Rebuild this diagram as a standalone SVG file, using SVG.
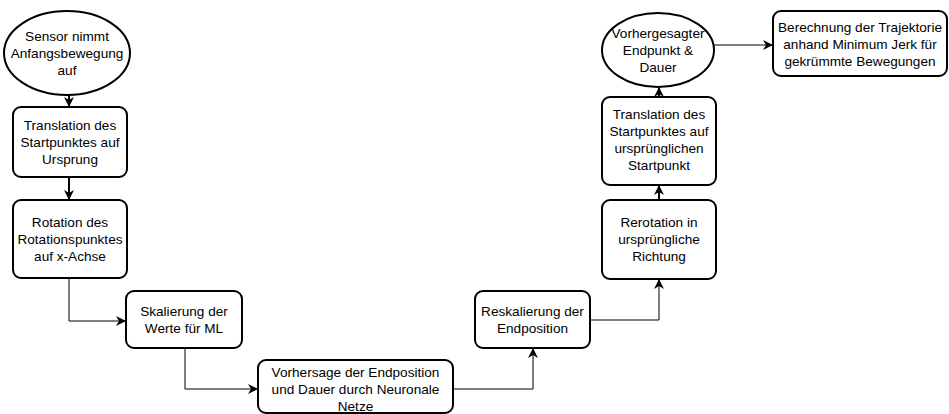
<svg xmlns="http://www.w3.org/2000/svg" width="949" height="414" viewBox="0 0 949 414">
<defs>
<style>
.n{fill:#fff;stroke:#000;stroke-width:2}
.t{font-family:"Liberation Sans",Arial,Helvetica,sans-serif;font-size:13.6px;fill:#000;text-anchor:middle}
.c{fill:none;stroke:#000;stroke-width:1}
.c2{fill:none;stroke:#000;stroke-width:2}
</style>
<marker id="ah" viewBox="0 0 10 10" refX="9" refY="5" markerWidth="10" markerHeight="10" markerUnits="userSpaceOnUse" orient="auto">
<path d="M0,0 L10,5 L0,10 L3,5 Z" fill="#000"/>
</marker>
</defs>
<rect width="949" height="414" fill="#fff"/>
<g id="connectors">
<path class="c2" d="M69,95 V106" marker-end="url(#ah)"/>
<path class="c2" d="M69,177 V199" marker-end="url(#ah)"/>
<path class="c" d="M69,278 V321 H125" marker-end="url(#ah)"/>
<path class="c" d="M185,348 V389 H257" marker-end="url(#ah)"/>
<path class="c" d="M453,389 H533 V349" marker-end="url(#ah)"/>
<path class="c" d="M590,320 H659 V280" marker-end="url(#ah)"/>
<path class="c2" d="M659,200 V186" marker-end="url(#ah)"/>
<path class="c2" d="M659,97 V88" marker-end="url(#ah)"/>
<path class="c" d="M714,45 H772" marker-end="url(#ah)"/>
</g>
<g id="n1">
<ellipse class="n" cx="67" cy="53" rx="63" ry="42"/>
<text class="t"><tspan x="67" y="41">Sensor nimmt</tspan><tspan x="67" y="58">Anfangsbewegung</tspan><tspan x="67" y="75">auf</tspan></text>
</g>
<g id="n2">
<rect class="n" x="13" y="107" width="114" height="70" rx="8"/>
<text class="t"><tspan x="70" y="130">Translation des</tspan><tspan x="70" y="147">Startpunktes auf</tspan><tspan x="70" y="164">Ursprung</tspan></text>
</g>
<g id="n3">
<rect class="n" x="13" y="200" width="114" height="78" rx="8"/>
<text class="t"><tspan x="70" y="227">Rotation des</tspan><tspan x="70" y="244">Rotationspunktes</tspan><tspan x="70" y="261">auf x-Achse</tspan></text>
</g>
<g id="n4">
<rect class="n" x="126" y="291" width="116" height="57" rx="8"/>
<text class="t"><tspan x="184" y="316">Skalierung der</tspan><tspan x="184" y="333">Werte für ML</tspan></text>
</g>
<g id="n5">
<rect class="n" x="258" y="360" width="195" height="53" rx="8"/>
<text class="t"><tspan x="355.5" y="377">Vorhersage der Endposition</tspan><tspan x="355.5" y="394">und Dauer durch Neuronale</tspan><tspan x="355.5" y="411">Netze</tspan></text>
</g>
<g id="n6">
<rect class="n" x="475" y="291" width="115" height="57" rx="8"/>
<text class="t"><tspan x="532.5" y="316">Reskalierung der</tspan><tspan x="532.5" y="333">Endposition</tspan></text>
</g>
<g id="n7">
<rect class="n" x="602" y="200" width="114" height="79" rx="8"/>
<text class="t"><tspan x="659" y="227">Rerotation in</tspan><tspan x="659" y="244">ursprüngliche</tspan><tspan x="659" y="261">Richtung</tspan></text>
</g>
<g id="n8">
<rect class="n" x="602" y="97" width="114" height="88" rx="8"/>
<text class="t"><tspan x="659" y="119">Translation des</tspan><tspan x="659" y="136">Startpunktes auf</tspan><tspan x="659" y="153">ursprünglichen</tspan><tspan x="659" y="170">Startpunkt</tspan></text>
</g>
<g id="n9">
<ellipse class="n" cx="658" cy="50" rx="56" ry="37"/>
<text class="t"><tspan x="658" y="38">Vorhergesagter</tspan><tspan x="658" y="55">Endpunkt &amp;</tspan><tspan x="658" y="72">Dauer</tspan></text>
</g>
<g id="n10">
<rect class="n" x="773" y="11" width="174" height="65" rx="8"/>
<text class="t"><tspan x="860" y="32">Berechnung der Trajektorie</tspan><tspan x="860" y="49">anhand Minimum Jerk für</tspan><tspan x="860" y="66">gekrümmte Bewegungen</tspan></text>
</g>
</svg>
